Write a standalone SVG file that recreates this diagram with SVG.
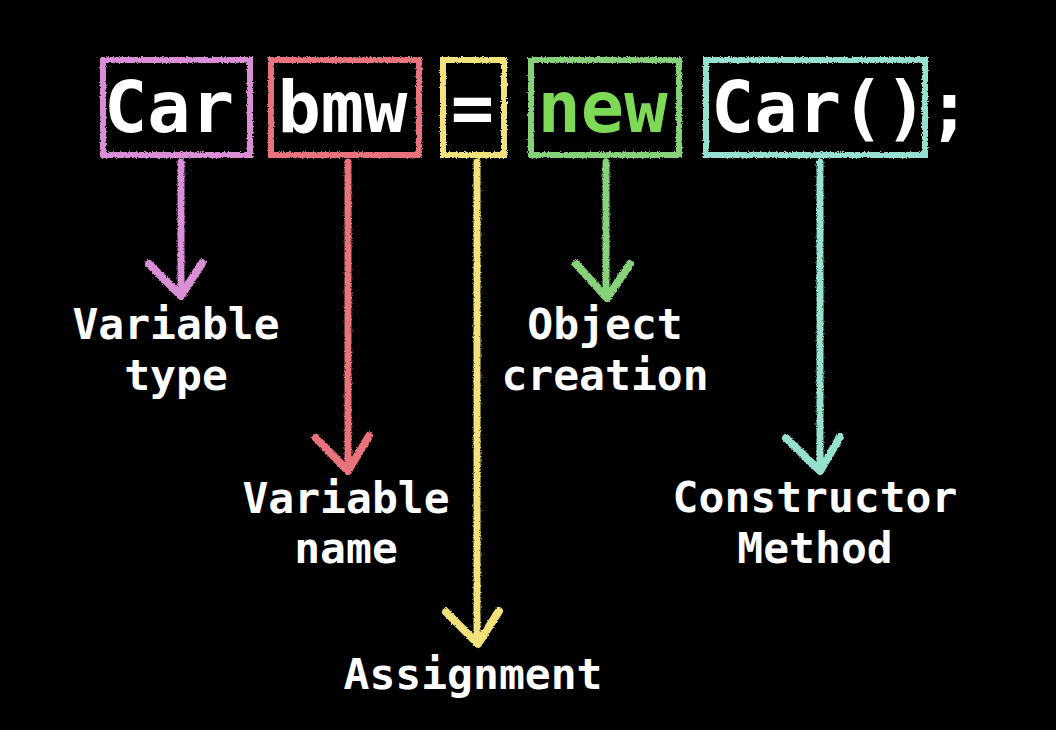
<svg xmlns="http://www.w3.org/2000/svg" width="1056" height="730" viewBox="0 0 1056 730">
<defs>
<filter id="chalk" filterUnits="userSpaceOnUse" x="0" y="0" width="1056" height="730">
<feTurbulence type="fractalNoise" baseFrequency="0.8" numOctaves="2" seed="3" result="n"/>
<feDisplacementMap in="SourceGraphic" in2="n" scale="3" xChannelSelector="R" yChannelSelector="G"/>
</filter>
<style>
.code{font-family:"DejaVu Sans Mono","Liberation Mono",monospace;font-weight:bold;font-size:72px;fill:#ffffff}
.lbl{font-family:"DejaVu Sans Mono","Liberation Mono",monospace;font-weight:bold;font-size:43px;fill:#ffffff;text-anchor:middle}
.box{fill:none;stroke-width:6;filter:url(#chalk)}
.shaft{fill:none;stroke-width:7;stroke-linecap:round;filter:url(#chalk)}
.head{fill:none;stroke-width:8;stroke-linecap:round;stroke-linejoin:round;filter:url(#chalk)}
</style>
</defs>
<rect width="1056" height="730" fill="#000000"/>
<g id="node-car-type">
<rect class="box" x="103" y="60" width="147" height="95" stroke="#d98ed5"/>
<text class="code" x="104" y="132">Car</text>
</g>
<g id="node-bmw">
<rect class="box" x="271" y="60" width="148" height="95" stroke="#e8737b"/>
<text class="code" x="277.4" y="132">bmw</text>
</g>
<g id="node-assign">
<rect class="box" x="443" y="60" width="61" height="95" stroke="#f2e27c"/>
<text class="code" x="450.8" y="132">=</text>
</g>
<g id="node-new">
<rect class="box" x="531" y="60" width="148" height="95" stroke="#86d17a"/>
<text class="code" x="537.5" y="132" style="fill:#7ed957">new</text>
</g>
<g id="node-constructor">
<rect class="box" x="706" y="60" width="219" height="95" stroke="#95e0cf"/>
<text class="code" x="711" y="132">Car();</text>
</g>
<g id="connectors">
<path class="shaft" d="M181 162 L181 290" stroke="#d98ed5"/>
<polyline class="head" points="149,264 181,296 202,263" stroke="#d98ed5"/>
<path class="shaft" d="M348 162 L348 466" stroke="#e8737b"/>
<polyline class="head" points="316,438 348,471 369,436" stroke="#e8737b"/>
<path class="shaft" d="M477 162 L477 638" stroke="#f2e27c"/>
<polyline class="head" points="446,612 478,644 499,611" stroke="#f2e27c"/>
<path class="shaft" d="M606 162 L606 293" stroke="#86d17a"/>
<polyline class="head" points="576,264 607,298 630,264" stroke="#86d17a"/>
<path class="shaft" d="M820 162 L820 466" stroke="#95e0cf"/>
<polyline class="head" points="786,438 820,471 840,437" stroke="#95e0cf"/>
</g>
<g id="label-variable-type">
<text class="lbl" x="176" y="339">Variable</text>
<text class="lbl" x="176" y="390">type</text>
</g>
<g id="label-variable-name">
<text class="lbl" x="346" y="513">Variable</text>
<text class="lbl" x="346" y="563">name</text>
</g>
<g id="label-assignment">
<text class="lbl" x="473" y="689">Assignment</text>
</g>
<g id="label-object-creation">
<text class="lbl" x="605" y="339">Object</text>
<text class="lbl" x="605" y="390">creation</text>
</g>
<g id="label-constructor">
<text class="lbl" x="815" y="512">Constructor</text>
<text class="lbl" x="815" y="563">Method</text>
</g>
</svg>
